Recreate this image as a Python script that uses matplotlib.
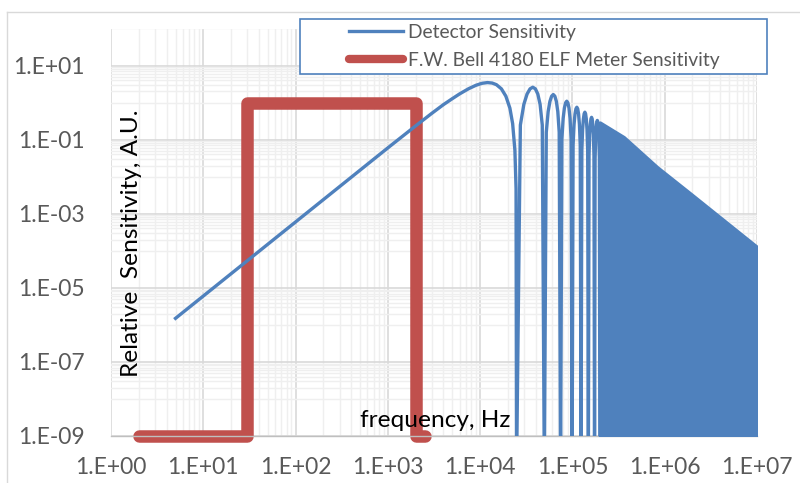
import matplotlib
matplotlib.use('Agg')
import matplotlib.pyplot as plt
from matplotlib.lines import Line2D
from matplotlib.patches import Rectangle
from matplotlib.ticker import FixedLocator, LogLocator, NullFormatter

plt.rcParams['font.family'] = ['Lato', 'DejaVu Sans']

# ---- values ----
# detector: f^2 rise and main lobe, then the separately visible side lobes
# (1e-10 marks a null, it falls below the axis)
det_freq = [5, 1e3, 2e3, 3e3, 4e3, 5e3, 6e3, 7.5e3, 9e3, 1.05e4, 1.2e4, 1.35e4, 1.5e4,
            1.7e4, 1.9e4, 2.1e4, 2.25e4, 2.38e4, 2.45e4, 2.48e4,
            2.728e4, 2.976e4, 3.224e4, 3.472e4, 3.72e4, 3.968e4, 4.216e4, 4.464e4, 4.712e4, 4.96e4,
            5.208e4, 5.456e4, 5.704e4, 5.952e4, 6.2e4, 6.448e4, 6.696e4, 6.944e4, 7.192e4, 7.44e4,
            7.688e4, 7.936e4, 8.184e4, 8.432e4, 8.68e4, 8.928e4, 9.176e4, 9.424e4, 9.672e4, 9.92e4,
            1.0168e5, 1.0416e5, 1.0664e5, 1.0912e5, 1.116e5, 1.1408e5, 1.1656e5, 1.1904e5, 1.2152e5, 1.24e5,
            1.2648e5, 1.2896e5, 1.3144e5, 1.3392e5, 1.364e5, 1.3888e5, 1.4136e5, 1.4384e5, 1.4632e5, 1.488e5,
            1.5128e5, 1.5376e5, 1.5624e5, 1.5872e5, 1.612e5, 1.6368e5, 1.6616e5, 1.6864e5, 1.7112e5, 1.736e5,
            1.7608e5, 1.7856e5, 1.8104e5, 1.8352e5, 1.86e5, 1.8848e5, 1.9096e5, 1.9344e5, 1.9592e5, 1.984e5]
det_sens = [1.5e-6, 0.06, 0.235, 0.515, 0.88, 1.28, 1.72, 2.37, 2.93, 3.32, 3.47, 3.37, 3.05,
            2.35, 1.49, 0.71, 0.27, 0.052, 0.0047, 1e-10,
            0.248, 0.897, 1.70, 2.35, 2.6, 2.35, 1.70, 0.897, 0.248, 1e-10,
            0.158, 0.569, 1.08, 1.49, 1.65, 1.49, 1.08, 0.569, 0.158, 1e-10,
            0.104, 0.376, 0.714, 0.986, 1.09, 0.986, 0.714, 0.376, 0.104, 1e-10,
            0.0716, 0.259, 0.491, 0.679, 0.75, 0.679, 0.491, 0.259, 0.0716, 1e-10,
            0.0525, 0.190, 0.360, 0.498, 0.55, 0.498, 0.360, 0.190, 0.0525, 1e-10,
            0.0382, 0.138, 0.262, 0.362, 0.40, 0.362, 0.262, 0.138, 0.0382, 1e-10,
            0.0315, 0.114, 0.216, 0.299, 0.33, 0.299, 0.216, 0.114, 0.0315, 1e-10]
# above ~2e5 Hz the lobes merge into a solid band; its upper envelope
env_freq = [1.984e5, 3.6e5, 8.3e5, 1.9e6, 4.38e6, 1e7]
env_sens = [0.29, 0.117, 0.018, 0.0035, 6.6e-4, 1.27e-4]

# F.W. Bell 4180 pass band
meter_freq = [2, 30, 30, 2000, 2000, 2500]
meter_sens = [1e-9, 1e-9, 1.0, 1.0, 1e-9, 1e-9]

xticks = [1e0, 1e1, 1e2, 1e3, 1e4, 1e5, 1e6, 1e7]
xtick_labels = ['1.E+00', '1.E+01', '1.E+02', '1.E+03', '1.E+04', '1.E+05', '1.E+06', '1.E+07']
yticks = [1e-9, 1e-7, 1e-5, 1e-3, 1e-1, 1e1]
ytick_labels = ['1.E-09', '1.E-07', '1.E-05', '1.E-03', '1.E-01', '1.E+01']

blue = '#4F81BD'
red = '#C0504D'
gray_txt = '#595959'
FS_TICK = 16.5
FS_TITLE = 17.6
FS_LEG = 13.9

fig = plt.figure(figsize=(8, 4.83), dpi=100)
W, H = 800, 483
ax = fig.add_axes([111 / W, 1 - 436 / H, (757 - 111) / W, (436 - 28.5) / H])

ax.set_xscale('log')
ax.set_yscale('log')
ax.set_xlim(1, 1e7)
ax.set_ylim(1e-9, 1e2)

ax.fill_between(env_freq, 1e-10, env_sens, color=blue, lw=2.4, zorder=3)
ax.plot(meter_freq, meter_sens, color=red, lw=9, solid_capstyle='round',
        solid_joinstyle='round', clip_on=False, zorder=2)
ax.plot(det_freq, det_sens, color=blue, lw=2.4, solid_joinstyle='round', zorder=3)

# ticks / grid
ax.xaxis.set_major_locator(FixedLocator(xticks))
ax.set_xticklabels(xtick_labels)
ax.xaxis.set_minor_locator(LogLocator(base=10, subs=range(2, 10)))
ax.xaxis.set_minor_formatter(NullFormatter())
ax.yaxis.set_major_locator(FixedLocator(yticks))
ax.set_yticklabels(ytick_labels)
yminor = [m * 10 * k for m in yticks for k in range(1, 10) if m * 10 * k <= 1e2]
ax.yaxis.set_minor_locator(FixedLocator(yminor))
ax.yaxis.set_minor_formatter(NullFormatter())

ax.grid(which='major', color='#d9d9d9', lw=1.2)
ax.grid(which='minor', color='#efefef', lw=1.0)
ax.set_axisbelow(True)
ax.tick_params(which='both', length=0)
ax.tick_params(axis='x', pad=15, labelsize=FS_TICK, labelcolor=gray_txt)
ax.tick_params(axis='y', pad=19, labelsize=FS_TICK, labelcolor=gray_txt)
for s in ['top', 'right', 'left']:
    ax.spines[s].set_visible(False)
ax.spines['bottom'].set_color('#bfbfbf')
ax.spines['bottom'].set_linewidth(1.0)

# axis titles sit inside the plot area
ax.text((131 - 111) / 646, (436 - 243) / 407.5, 'Relative  Sensitivity, A.U.',
        rotation=90, ha='center', va='center', fontsize=FS_TITLE, color='black',
        transform=ax.transAxes, zorder=4)
ax.text((435.5 - 111) / 646, (436 - 427) / 407.5, 'frequency, Hz',
        ha='center', va='baseline', fontsize=FS_TITLE, color='black',
        transform=ax.transAxes, zorder=4)

# chart-area border (only top and left show in the crop)
fig.add_artist(Line2D([7 / W, 1], [1 - 12 / H] * 2, transform=fig.transFigure,
                      color='#d9d9d9', lw=1))
fig.add_artist(Line2D([7 / W] * 2, [0, 1 - 12 / H], transform=fig.transFigure,
                      color='#d9d9d9', lw=1))

# legend box
fig.add_artist(Rectangle((300 / W, 1 - 74 / H), 467 / W, 55 / H, transform=fig.transFigure,
                         facecolor='white', edgecolor=blue, lw=1.2, zorder=3))
handles = [Line2D([], [], color=blue, lw=2.4),
           Line2D([], [], color=red, lw=6, solid_capstyle='round')]
fig.legend(handles, ['Detector Sensitivity', 'F.W. Bell 4180 ELF Meter Sensitivity'],
           loc='center left', bbox_to_anchor=(349 / W, 1 - 46.5 / H), frameon=False,
           fontsize=FS_LEG, labelcolor=gray_txt, handlelength=2.8, handletextpad=0.25,
           borderpad=0, borderaxespad=0, labelspacing=0.55)

fig.savefig('out.png', dpi=100)
